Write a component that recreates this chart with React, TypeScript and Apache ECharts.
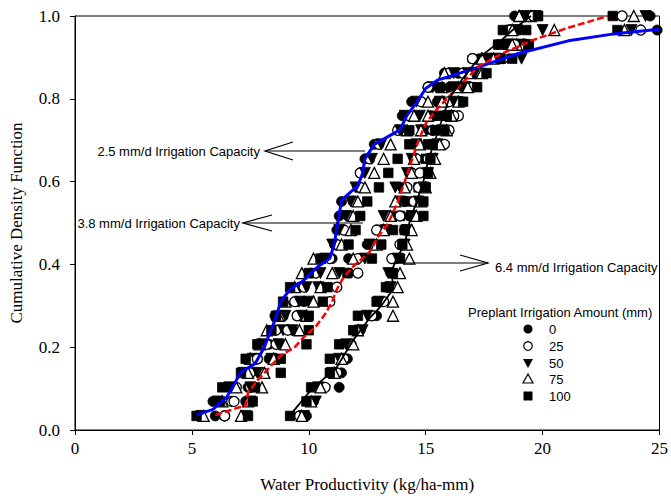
import React, { useEffect, useRef } from "react";
import * as echarts from "echarts";

// Cumulative probability levels (29 seasons)
const CDF = [0.034, 0.069, 0.103, 0.138, 0.172, 0.207, 0.241, 0.276, 0.31, 0.345, 0.379, 0.414, 0.448, 0.483, 0.517, 0.552, 0.586, 0.621, 0.655, 0.69, 0.724, 0.759, 0.793, 0.828, 0.862, 0.897, 0.931, 0.966, 1.0];

// 2.5 mm/d irrigation capacity
const A0 = [5.3, 5.9, 6.6, 7.3, 7.7, 8.3, 8.5, 8.55, 9.5, 9.6, 10.1, 11.0, 11.1, 11.2, 11.3, 11.4, 12.1, 12.2, 12.4, 12.8, 14.0, 14.0, 14.4, 15.2, 15.8, 17.3, 18.4, 24.9, 24.6];
const A25 = [6.4, 6.7, 6.9, 7.5, 7.8, 8.2, 8.6, 8.9, 9.4, 9.8, 10.3, 10.9, 11.2, 11.5, 11.7, 11.9, 12.2, 12.2, 12.6, 13.0, 13.8, 14.3, 14.8, 15.1, 16.0, 17.0, 18.8, 24.2, 23.4];
const A50 = [5.4, 6.1, 6.6, 7.2, 7.6, 8.0, 8.9, 9.0, 9.6, 9.9, 10.5, 10.7, 11.0, 11.3, 11.6, 11.8, 12.0, 12.4, 12.7, 13.1, 13.9, 14.1, 14.6, 15.3, 16.2, 17.6, 19.1, 23.8, 24.4];
const A75 = [5.5, 6.3, 6.9, 7.4, 7.5, 7.9, 8.2, 8.7, 9.0, 9.4, 9.7, 10.2, 11.4, 11.8, 11.9, 12.1, 12.4, 12.8, 13.2, 13.5, 14.2, 14.5, 15.1, 15.7, 15.8, 17.4, 19.2, 23.5, 23.9];
const A100 = [5.2, 6.2, 6.3, 7.1, 7.3, 7.8, 8.4, 8.6, 8.9, 9.2, 10.0, 10.5, 11.7, 12.0, 12.2, 12.5, 13.0, 13.4, 13.8, 14.3, 14.3, 15.3, 15.6, 15.6, 16.5, 17.8, 19.4, 23.2, 23.0];

// 3.8 mm/d irrigation capacity
const B0 = [6.0, 7.3, 7.4, 7.9, 8.3, 8.8, 9.3, 9.6, 9.8, 10.5, 11.7, 11.7, 12.5, 13.0, 13.6, 13.8, 14.0, 14.3, 14.5, 14.7, 15.0, 15.2, 15.5, 16.0, 16.4, 17.9, 18.1, 19.0, 19.4];
const B25 = [6.4, 6.8, 7.5, 8.05, 7.8, 8.6, 9.1, 9.5, 10.9, 11.2, 12.1, 12.1, 12.8, 12.9, 13.4, 14.1, 14.2, 14.4, 14.6, 15.8, 15.3, 16.4, 16.0, 15.1, 16.6, 17.0, 18.8, 18.6, 19.6];
const B50 = [7.3, 7.5, 7.5, 7.8, 8.4, 8.7, 9.3, 9.7, 10.0, 10.4, 11.3, 12.4, 12.6, 13.3, 13.2, 13.9, 13.7, 14.2, 14.4, 14.6, 14.8, 14.75, 15.6, 16.2, 16.8, 19.1, 18.6, 20.0, 19.7];
const B75 = [7.1, 7.4, 8.0, 8.1, 8.5, 9.0, 9.6, 9.9, 10.2, 10.5, 11.0, 11.9, 12.9, 13.2, 13.5, 13.7, 14.1, 14.4, 14.5, 14.75, 14.8, 15.1, 15.7, 16.4, 16.9, 17.4, 18.9, 20.5, 19.5];
const B100 = [7.4, 7.6, 7.7, 8.8, 8.8, 9.9, 10.0, 10.0, 10.6, 10.8, 11.65, 12.7, 13.1, 13.6, 13.9, 14.2, 14.7, 14.9, 15.0, 15.1, 15.4, 15.6, 16.4, 16.9, 17.2, 18.7, 19.4, 19.3, 19.8];

// 6.4 mm/d irrigation capacity
const C0 = [9.9, 10.2, 11.3, 11.4, 11.65, 11.7, 12.2, 12.9, 13.05, 13.4, 13.5, 13.7, 14.0, 14.3, 14.3, 14.6, 14.8, 15.0, 15.2, 15.4, 15.6, 15.8, 16.4, 16.6, 17.5, 18.2, 18.4, 18.5, 18.8];
const C25 = [9.6, 10.0, 10.7, 11.2, 11.5, 11.8, 12.0, 12.7, 13.2, 13.35, 13.6, 13.55, 13.9, 14.1, 13.9, 14.5, 14.7, 14.75, 15.1, 15.3, 16.0, 16.2, 16.5, 16.9, 17.3, 18.3, 18.8, 18.6, 19.6];
const C50 = [9.8, 10.3, 10.4, 11.0, 11.3, 11.6, 12.3, 12.5, 13.0, 13.5, 13.4, 13.8, 14.1, 14.2, 14.4, 14.7, 14.9, 15.1, 15.3, 15.5, 15.7, 16.0, 16.2, 16.7, 17.1, 18.0, 18.5, 18.9, 19.2];
const C75 = [9.7, 10.1, 10.5, 11.1, 11.4, 11.9, 12.1, 13.6, 13.6, 13.8, 13.9, 14.3, 14.2, 14.4, 14.6, 14.8, 15.0, 15.2, 15.4, 15.6, 15.9, 16.1, 16.4, 16.8, 17.4, 17.9, 18.7, 18.7, 19.0];
const C100 = [9.2, 9.9, 10.1, 10.9, 10.9, 11.3, 11.9, 12.1, 12.9, 13.3, 13.6, 13.9, 14.0, 14.1, 14.9, 14.9, 15.0, 15.1, 15.2, 15.3, 15.8, 15.9, 16.6, 17.2, 17.6, 18.2, 18.1, 18.3, 19.8];

// Fitted CDF curves [x, y]
const BLUE_FIT = [[5.2, 0.036], [5.9, 0.05], [6.5, 0.08], [7.1, 0.14], [7.7, 0.16], [8.1, 0.2], [8.3, 0.23], [8.55, 0.265], [8.8, 0.31], [9.2, 0.34], [9.75, 0.36], [10.4, 0.395], [10.9, 0.415], [11.1, 0.45], [11.2, 0.49], [11.3, 0.52], [11.4, 0.555], [12.1, 0.59], [12.3, 0.62], [12.4, 0.655], [12.8, 0.69], [13.9, 0.725], [14.2, 0.76], [14.6, 0.79], [15.0, 0.825], [15.5, 0.845], [16.9, 0.87], [19.0, 0.91], [21.1, 0.94], [23.2, 0.958], [25.0, 0.968]];
const RED_FIT = [[6.0, 0.036], [7.3, 0.06], [7.4, 0.09], [7.8, 0.12], [8.3, 0.15], [8.8, 0.18], [9.4, 0.2], [9.8, 0.225], [10.3, 0.25], [10.7, 0.28], [11.0, 0.31], [11.2, 0.34], [11.5, 0.37], [11.9, 0.395], [12.6, 0.43], [13.0, 0.47], [13.4, 0.5], [13.8, 0.55], [14.1, 0.6], [14.4, 0.65], [14.7, 0.7], [15.0, 0.74], [15.4, 0.77], [15.9, 0.8], [16.6, 0.84], [17.3, 0.88], [18.3, 0.91], [19.5, 0.94], [21.0, 0.97], [22.8, 1.0]];
const BLACK_FIT = [[9.2, 0.036], [10.1, 0.097], [11.2, 0.152], [11.9, 0.217], [12.6, 0.27], [13.1, 0.3], [13.6, 0.34], [13.55, 0.386], [13.8, 0.418], [14.1, 0.45], [14.3, 0.5], [14.6, 0.55], [14.9, 0.6], [15.1, 0.65], [15.4, 0.7], [15.7, 0.75], [16.0, 0.8], [16.6, 0.85], [17.3, 0.9], [18.2, 0.94], [18.8, 0.97], [19.5, 1.0]];

const AMOUNTS = ["0", "25", "50", "75", "100"];
const GROUPS = [
  { name: "2.5 mm/d", series: [A0, A25, A50, A75, A100] },
  { name: "3.8 mm/d", series: [B0, B25, B50, B75, B100] },
  { name: "6.4 mm/d", series: [C0, C25, C50, C75, C100] },
];

const SERIF = "'Liberation Serif', 'Times New Roman', serif";
const SANS = "'Liberation Sans', Arial, sans-serif";

const markerStyle = (i: number) => {
  switch (i) {
    case 0:
      return { symbol: "circle", symbolSize: 10, symbolRotate: 0, itemStyle: { color: "#000", borderColor: "#000", borderWidth: 0.8, opacity: 1 } };
    case 1:
      return { symbol: "circle", symbolSize: 10, symbolRotate: 0, itemStyle: { color: "#fff", borderColor: "#000", borderWidth: 1.3, opacity: 1 } };
    case 2:
      return { symbol: "triangle", symbolSize: 11, symbolRotate: 180, itemStyle: { color: "#000", borderColor: "#000", borderWidth: 0.8, opacity: 1 } };
    case 3:
      return { symbol: "triangle", symbolSize: 11, symbolRotate: 0, itemStyle: { color: "#fff", borderColor: "#000", borderWidth: 1.3, opacity: 1 } };
    default:
      return { symbol: "rect", symbolSize: 9.5, symbolRotate: 0, itemStyle: { color: "#000", borderColor: "#000", borderWidth: 0.8, opacity: 1 } };
  }
};

export default function App() {
  const ref = useRef<HTMLDivElement>(null);
  useEffect(() => {
    if (!ref.current) return;
    const chart = echarts.init(ref.current, undefined, { renderer: "svg" });

    const scatterSeries: any[] = [];
    GROUPS.forEach((g) => {
      g.series.forEach((vals, i) => {
        const m = markerStyle(i);
        scatterSeries.push({
          type: "scatter",
          name: g.name + " " + AMOUNTS[i],
          data: vals.map((x, k) => [x, CDF[k]]),
          symbol: m.symbol,
          symbolSize: m.symbolSize,
          symbolRotate: m.symbolRotate,
          itemStyle: m.itemStyle,
          z: 3,
          clip: false,
        });
      });
    });

    const lineSeries = [
      { data: BLUE_FIT, color: "#0000ff", width: 3, type: "solid" },
      { data: RED_FIT, color: "#ff0000", width: 2.5, type: [7, 3] },
      { data: BLACK_FIT, color: "#000000", width: 1.8, type: "solid" },
    ].map((l) => ({
      type: "line",
      data: l.data,
      showSymbol: false,
      symbol: "none",
      lineStyle: { color: l.color, width: l.width, type: l.type },
      z: 4,
      clip: true,
    }));

    const legendY = [329, 346, 363, 379, 396];
    const lx = 528;
    const legendSymbols: any[] = [
      { type: "circle", shape: { cx: lx, cy: legendY[0], r: 4.5 }, style: { fill: "#000" } },
      { type: "circle", shape: { cx: lx, cy: legendY[1], r: 4.3 }, style: { fill: "#fff", stroke: "#000", lineWidth: 1.2 } },
      { type: "polygon", shape: { points: [[lx - 5, legendY[2] - 4], [lx + 5, legendY[2] - 4], [lx, legendY[2] + 5]] }, style: { fill: "#000" } },
      { type: "polygon", shape: { points: [[lx - 5, legendY[3] + 4], [lx + 5, legendY[3] + 4], [lx, legendY[3] - 5]] }, style: { fill: "#fff", stroke: "#000", lineWidth: 1.2 } },
      { type: "rect", shape: { x: lx - 4.5, y: legendY[4] - 4.5, width: 9, height: 9 }, style: { fill: "#000" } },
    ];
    const txt = (text: string, x: number, y: number, align: string) => ({
      type: "text",
      style: { text, x, y, font: "13px " + SANS, fill: "#000", align, verticalAlign: "middle", textAlign: align, textVerticalAlign: "middle" },
      z: 10,
    });
    const legendTexts = AMOUNTS.map((a, i) => txt(a, 549, legendY[i], "left"));

    const arrowLine = (x1: number, y1: number, x2: number, y2: number) => ({
      type: "line",
      shape: { x1, y1, x2, y2 },
      style: { stroke: "#000", lineWidth: 1.2 },
      z: 10,
    });
    const arrowHead = (pts: number[][]) => ({
      type: "polyline",
      shape: { points: pts },
      style: { stroke: "#000", lineWidth: 1.2, fill: null },
      z: 10,
    });

    const graphic: any[] = [
      txt("2.5 mm/d Irrigation Capacity", 260, 151, "right"),
      arrowLine(265, 151, 365, 151),
      arrowHead([[293, 142], [265, 151], [293, 160]]),
      txt("3.8 mm/d Irrigation Capacity", 240, 223, "right"),
      arrowLine(243, 223, 363, 223),
      arrowHead([[272, 215], [243, 223], [272, 231]]),
      txt("6.4 mm/d Irrigation Capacity", 495, 267, "left"),
      arrowLine(405, 263, 488, 263),
      arrowHead([[460, 255], [488, 263], [460, 271]]),
      txt("Preplant Irrigation Amount (mm)", 468, 312, "left"),
      ...legendSymbols.map((s) => ({ ...s, z: 10 })),
      ...legendTexts,
    ];

    chart.setOption({
      animation: false,
      backgroundColor: "#fff",
      grid: { left: 75, right: 7, top: 16, bottom: 68, show: true, borderColor: "#000", borderWidth: 1, backgroundColor: "transparent" },
      xAxis: {
        type: "value",
        min: 0,
        max: 25,
        interval: 5,
        name: "Water Productivity (kg/ha-mm)",
        nameLocation: "middle",
        nameGap: 46,
        nameTextStyle: { fontFamily: SERIF, fontSize: 17, color: "#000" },
        axisLine: { show: true, onZero: false, lineStyle: { color: "#000", width: 1 } },
        axisTick: { show: true, length: 5, lineStyle: { color: "#000", width: 1 } },
        axisLabel: { fontFamily: SERIF, fontSize: 17, color: "#000", margin: 10 },
        splitLine: { show: false },
      },
      yAxis: {
        type: "value",
        min: 0,
        max: 1,
        interval: 0.2,
        name: "Cumulative Density Function",
        nameLocation: "middle",
        nameGap: 50,
        nameTextStyle: { fontFamily: SERIF, fontSize: 17, color: "#000" },
        axisLine: { show: true, onZero: false, lineStyle: { color: "#000", width: 1 } },
        axisTick: { show: true, length: 5, lineStyle: { color: "#000", width: 1 } },
        axisLabel: { fontFamily: SERIF, fontSize: 17, color: "#000", margin: 15, formatter: (v: number) => v.toFixed(1) },
        splitLine: { show: false },
      },
      series: [...scatterSeries, ...lineSeries],
      graphic,
    });
    return () => chart.dispose();
  }, []);
  return <div ref={ref} style={{ width: 671, height: 498, position: "absolute", left: 0, top: 0 }} />;
}
